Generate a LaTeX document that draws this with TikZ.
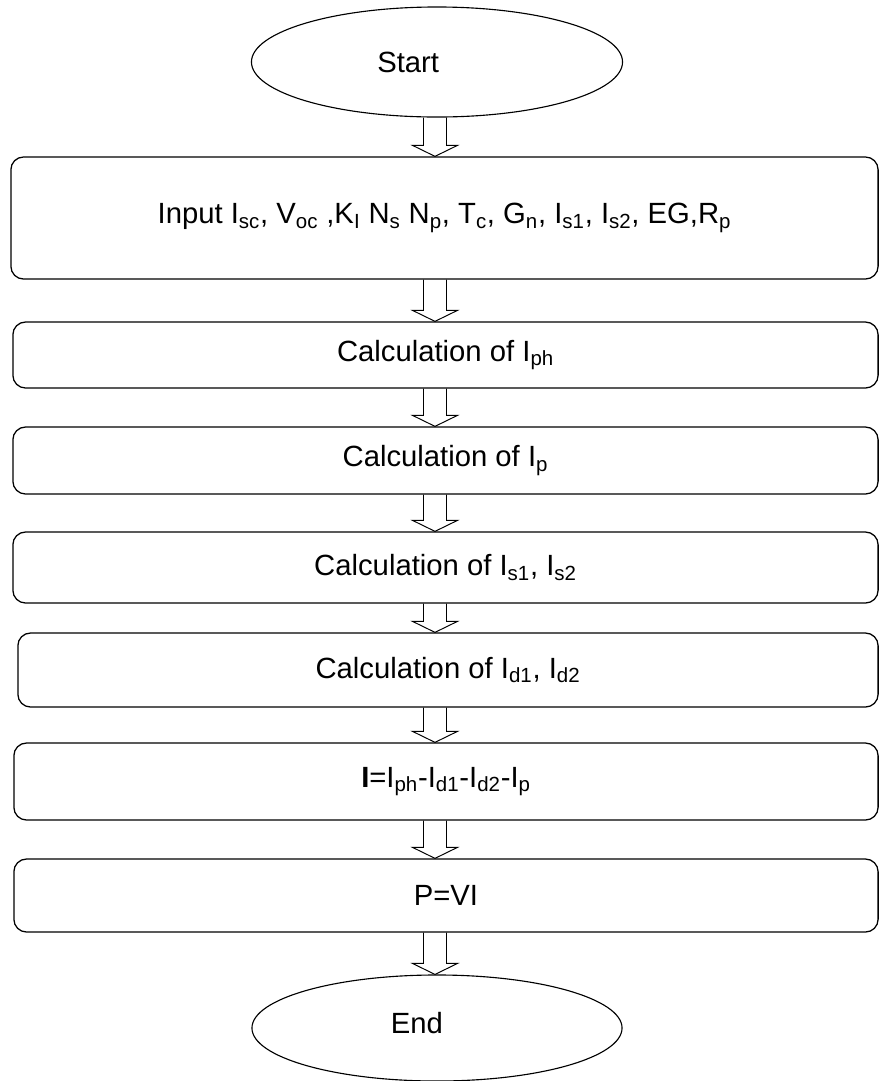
\documentclass[tikz,border=0pt]{standalone}
\usepackage{fontspec}
\setmainfont{Liberation Sans}
\usetikzlibrary{shapes.geometric,calc}
\newcommand{\flowfont}{\fontsize{20.8}{25}\selectfont}
\tikzset{
  termbox/.style={draw=black,ellipse,line width=.8pt,inner sep=0pt,font=\flowfont},
  stepbox/.style={draw=black,rounded corners=9pt,line width=.9pt,inner sep=0pt,
    align=center,font=\flowfont},
  blockarr/.style={draw=black,line width=.7pt,line join=miter}
}
\newcommand{\flowarrow}[2]{%
  \coordinate (fa) at (#1.south -| ax);
  \coordinate (fb) at (#2.north -| ax);
  \draw[blockarr] ($(fa)+(-11.5,0)$) -- ($(fb)+(-11.5,-11)$) -- ($(fb)+(-22.5,-11)$)
    -- (fb) -- ($(fb)+(22.5,-11)$) -- ($(fb)+(11.5,-11)$) -- ($(fa)+(11.5,0)$);}

\begin{document}
\begin{tikzpicture}[x=0.025cm,y=-0.025cm]
\useasboundingbox (0,0) rectangle (879,1081);
\coordinate (ax) at (435,0);

\node[termbox,minimum width=9.275cm,minimum height=2.75cm,
  label={[font=\flowfont,xshift=-0.72cm]center:Start}] (start) at (437,62) {};

\node[stepbox,minimum width=21.675cm,minimum height=3.05cm] (input) at (444.5,218)
  {Input I\textsubscript{sc}, V\textsubscript{oc} ,K\textsubscript{I} N\textsubscript{s}
   N\textsubscript{p}, T\textsubscript{c}, G\textsubscript{n}, I\textsubscript{s1},
   I\textsubscript{s2}, EG,R\textsubscript{p}};
\node[stepbox,minimum width=21.625cm,minimum height=1.65cm] (iph) at (445.5,355)
  {Calculation of I\textsubscript{ph}};
\node[stepbox,minimum width=21.625cm,minimum height=1.675cm] (ip) at (445.5,460.5)
  {Calculation of I\textsubscript{p}};
\node[stepbox,minimum width=21.625cm,minimum height=1.775cm] (is) at (445.5,567.5)
  {Calculation of I\textsubscript{s1}, I\textsubscript{s2}};
\node[stepbox,minimum width=21.5cm,minimum height=1.85cm] (id) at (448,670)
  {Calculation of I\textsubscript{d1}, I\textsubscript{d2}};
\node[stepbox,minimum width=21.6cm,minimum height=1.925cm] (icur) at (446,781.5)
  {\textbf{I}=I\textsubscript{ph}-I\textsubscript{d1}-I\textsubscript{d2}-I\textsubscript{p}};
\node[stepbox,minimum width=21.6cm,minimum height=1.825cm] (pvi) at (446,895.5)
  {P=VI};

\node[termbox,minimum width=9.25cm,minimum height=2.65cm,
  label={[font=\flowfont,xshift=-0.5cm,yshift=0.12cm]center:End}] (stop) at (437,1028) {};

\flowarrow{start}{input}
\flowarrow{input}{iph}
\flowarrow{iph}{ip}
\flowarrow{ip}{is}
\flowarrow{is}{id}
\flowarrow{id}{icur}
\flowarrow{icur}{pvi}
\flowarrow{pvi}{stop}
\end{tikzpicture}
\end{document}
